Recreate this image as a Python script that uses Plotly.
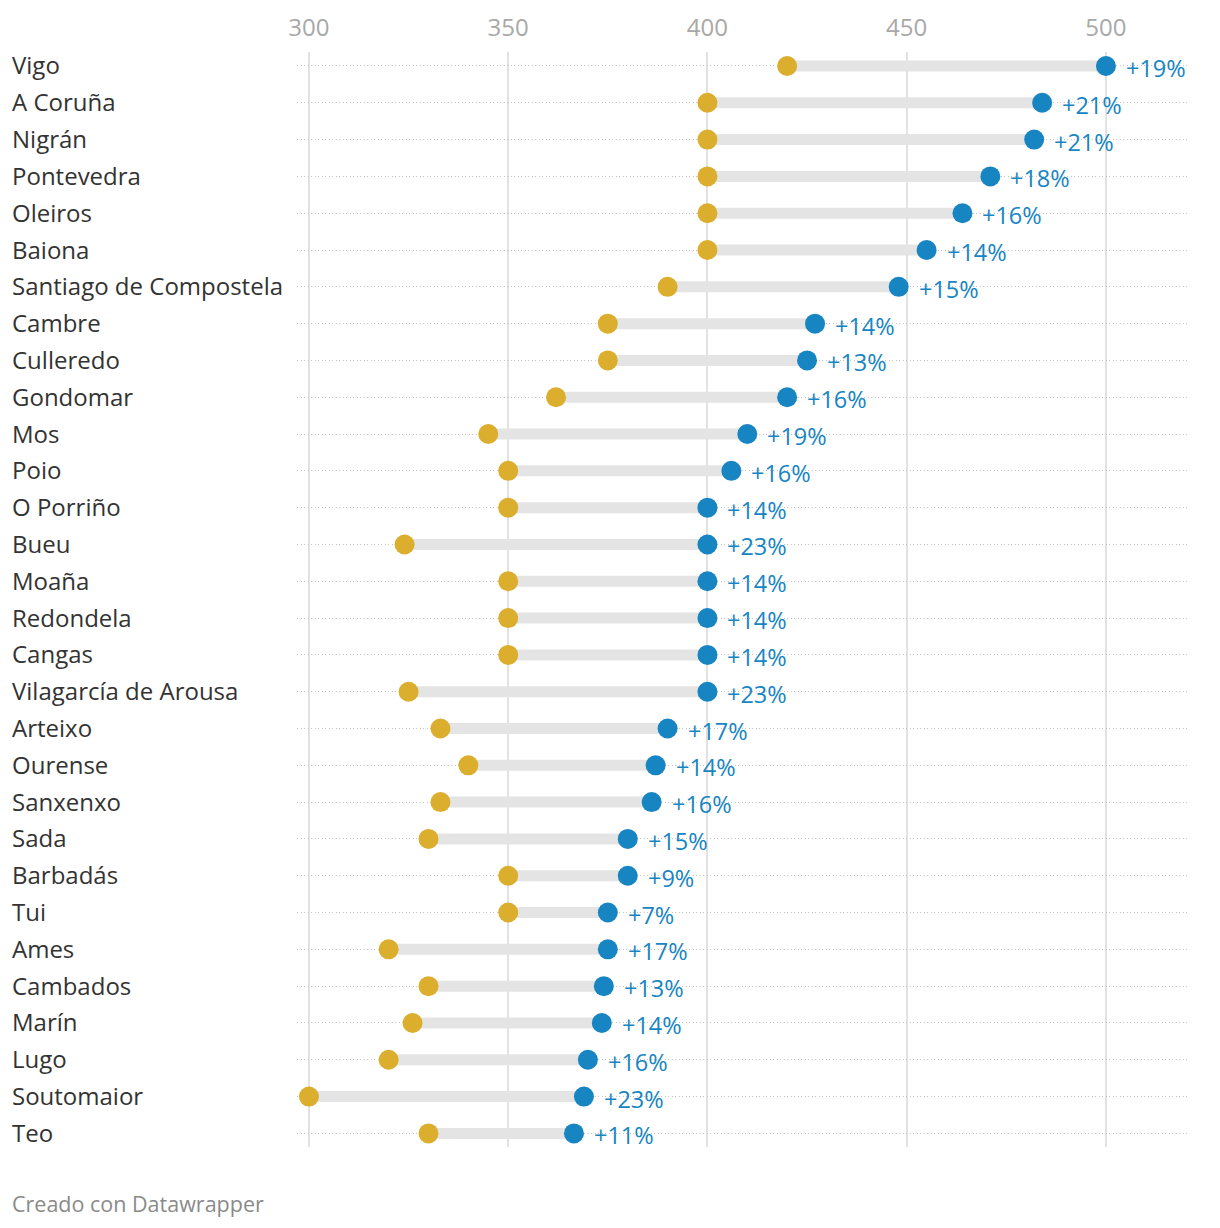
import plotly.graph_objects as go

cities = ["Vigo", "A Coruña", "Nigrán", "Pontevedra", "Oleiros", "Baiona",
          "Santiago de Compostela", "Cambre", "Culleredo", "Gondomar", "Mos",
          "Poio", "O Porriño", "Bueu", "Moaña", "Redondela", "Cangas",
          "Vilagarcía de Arousa", "Arteixo", "Ourense", "Sanxenxo", "Sada",
          "Barbadás", "Tui", "Ames", "Cambados", "Marín", "Lugo",
          "Soutomaior", "Teo"]
before = [420, 400, 400, 400, 400, 400, 390, 375, 375, 362, 345, 350, 350,
          324, 350, 350, 350, 325, 333, 340, 333, 330, 350, 350, 320, 330,
          326, 320, 300, 330]
after = [500, 484, 482, 471, 464, 455, 448, 427, 425, 420, 410, 406, 400,
         400, 400, 400, 400, 400, 390, 387, 386, 380, 380, 375, 375, 374,
         373.5, 370, 369, 366.5]
pct_labels = ["+19%", "+21%", "+21%", "+18%", "+16%", "+14%", "+15%", "+14%",
              "+13%", "+16%", "+19%", "+16%", "+14%", "+23%", "+14%", "+14%",
              "+14%", "+23%", "+17%", "+14%", "+16%", "+15%", "+9%", "+7%",
              "+17%", "+13%", "+14%", "+16%", "+23%", "+11%"]
x_ticks = [300, 350, 400, 450, 500]

GOLD = "#dcae2e"
BLUE = "#1785c2"
FONT = "Open Sans"

n = len(cities)
ys = list(range(n))

fig = go.Figure()

# connecting bars
bx, by = [], []
for i in range(n):
    bx += [before[i], after[i], None]
    by += [ys[i], ys[i], None]
fig.add_trace(go.Scatter(x=bx, y=by, mode="lines",
                         line=dict(color="#e4e4e4", width=11),
                         hoverinfo="skip", showlegend=False))
fig.add_trace(go.Scatter(x=before, y=ys, mode="markers",
                         marker=dict(color=GOLD, size=20, line=dict(width=0)),
                         showlegend=False))
fig.add_trace(go.Scatter(x=after, y=ys, mode="markers",
                         marker=dict(color=BLUE, size=20, line=dict(width=0)),
                         showlegend=False))

annotations = []
for i in range(n):
    annotations.append(dict(x=after[i], y=ys[i], xref="x", yref="y",
                            text=pct_labels[i], showarrow=False,
                            xanchor="left", yanchor="middle", xshift=18, yshift=-2,
                            font=dict(family=FONT, size=23.5, color=BLUE)))
    annotations.append(dict(x=0, y=ys[i], xref="paper", yref="y",
                            text=cities[i], showarrow=False,
                            xanchor="left", yanchor="middle", xshift=-287, yshift=1,
                            font=dict(family=FONT, size=24, color="#333333")))
annotations.append(dict(x=0, y=0, xref="paper", yref="paper",
                        text="Creado con Datawrapper", showarrow=False,
                        xanchor="left", yanchor="middle", xshift=-287, yshift=-56,
                        font=dict(family=FONT, size=21.5, color="#8a8a8a")))

fig.update_layout(
    width=1212, height=1220,
    margin=dict(l=289, r=30, t=44, b=81, autoexpand=False),
    paper_bgcolor="white", plot_bgcolor="white",
    font=dict(family=FONT),
    annotations=annotations,
    xaxis=dict(range=[297.0, 521.1], side="top", tickvals=x_ticks,
               ticktext=[str(v) for v in x_ticks], automargin=False,
               showgrid=True, gridcolor="#e2e2e2", gridwidth=1.5,
               zeroline=False, showline=False, ticks="",
               tickfont=dict(family=FONT, size=24, color="#a8a8a8"),
               ticklabelstandoff=10),
    yaxis=dict(range=[n - 1 + 0.37, -0.38], tickvals=ys, showticklabels=False,
               automargin=False,
               showgrid=True, gridcolor="#c4c4c4", griddash="1px,2.5px", gridwidth=1,
               zeroline=False, showline=False, ticks=""),
)

fig.write_html("out.html")
